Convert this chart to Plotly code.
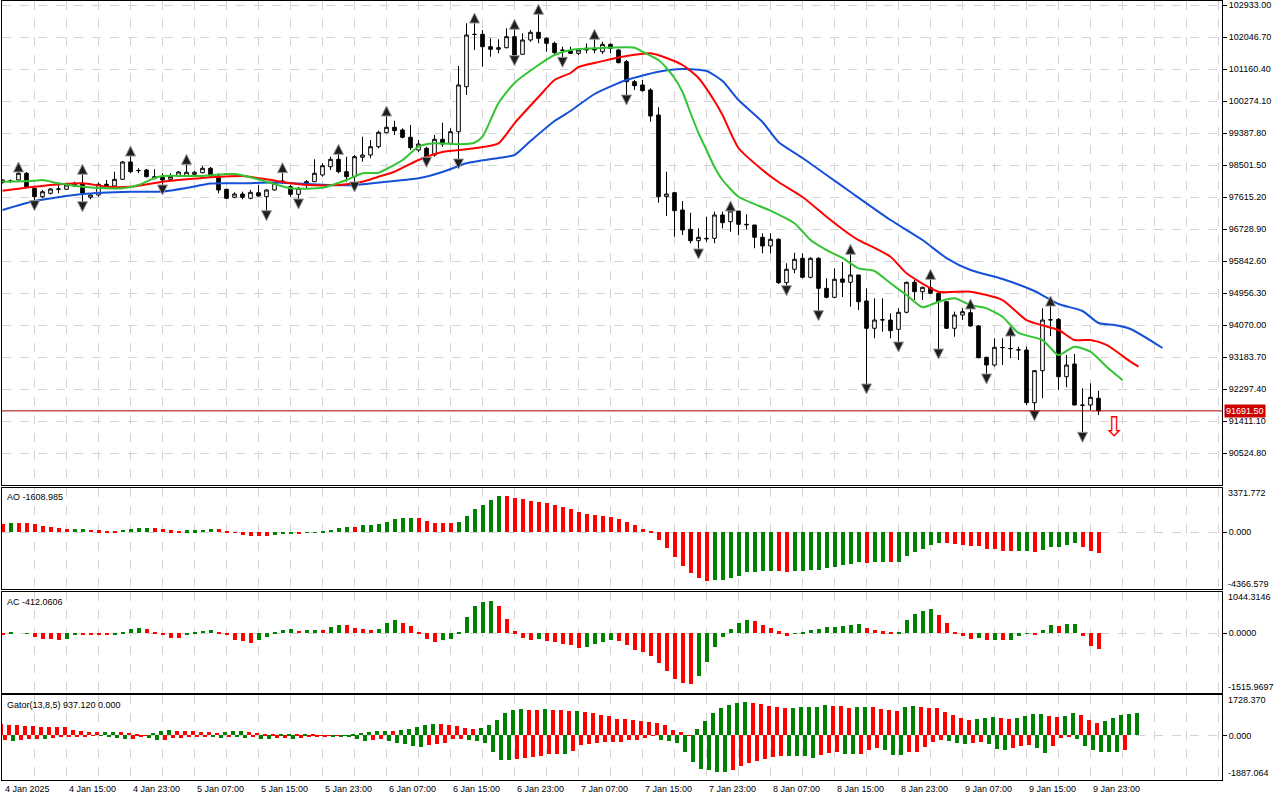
import plotly.graph_objects as go

# ---------------- DATA ----------------
opens = [98011, 98050, 98086, 98272, 97856, 97624, 97718, 97829, 97829, 97920,
         97995, 97607, 97671, 97967, 97920, 98105, 98585, 98344, 98363, 98178,
         98161, 98105, 98197, 98205, 98244, 98288, 98410, 98197, 97829, 97607,
         97698, 97579, 97734, 97624, 97809, 98058, 97901, 97690, 97995, 98039,
         98225, 98454, 98659, 98316, 98178, 98715, 98778, 99008, 99396, 99546,
         99471, 99269, 98917, 98964, 98778, 99213, 99102, 99424, 100670, 102121,
         102121, 101778, 101706, 101750, 102055, 101568, 101964, 102177, 102011, 101872,
         101687, 101659, 101595, 101734, 101734, 101640, 101844, 101687, 101363, 100809,
         100718, 100579, 99886, 97624, 97734, 97255, 96720, 96405, 96471, 96471,
         97117, 96931, 97227, 96859, 96840, 96499, 96258, 96444, 95242, 95613,
         95917, 95391, 95917, 95086, 94837, 95344, 95253, 95455, 94735, 93979,
         94208, 94208, 93951, 94422, 95253, 94993, 95103, 94948, 94715, 93979,
         94347, 94411, 94042, 93175, 92962, 93441, 93414, 93377, 93377, 91918,
         92805, 94208, 94228, 92638, 92990, 91854, 91854, 92040]
highs = [98105, 98100, 98335, 98308, 97865, 97809, 97865, 97948, 97995, 98039,
         98272, 97718, 98011, 98086, 98316, 98612, 98778, 98410, 98391, 98383,
         98272, 98272, 98335, 98548, 98335, 98474, 98446, 98272, 97837, 97745,
         97762, 97809, 97948, 97829, 98039, 98316, 97948, 97892, 98086, 98659,
         98548, 98732, 98825, 98732, 98778, 99285, 99194, 99452, 99886, 99728,
         99518, 99609, 99194, 99008, 99332, 99673, 99518, 101244, 102426, 102462,
         102241, 102011, 101983, 102288, 102288, 102149, 102241, 102703, 102038, 101916,
         101778, 101778, 101734, 101872, 102011, 101916, 101872, 101706, 101410, 100856,
         100856, 100626, 100100, 98316, 97762, 97504, 97180, 96748, 97070, 97208,
         97208, 97256, 97227, 97136, 96840, 96610, 96610, 96471, 95779, 96073,
         96056, 95945, 95945, 95363, 95640, 95815, 96056, 95455, 95086, 94809,
         94809, 94394, 94532, 95270, 95316, 95131, 95363, 94993, 94735, 94438,
         94532, 94541, 94070, 93192, 93702, 93702, 93793, 93469, 93469, 92824,
         94532, 94624, 94264, 93239, 93267, 92317, 92455, 92250]
lows = [97995, 98003, 98072, 97892, 97485, 97579, 97685, 97718, 97809, 97892,
        97457, 97552, 97624, 97856, 97901, 98086, 98272, 98272, 98155, 98105,
        97920, 98086, 98169, 98178, 98197, 98272, 98178, 97718, 97560, 97579,
        97552, 97552, 97624, 97208, 97790, 97975, 97624, 97532, 97865, 98031,
        98178, 98363, 98272, 98039, 98003, 98593, 98687, 98964, 99380, 99332,
        99241, 98917, 98862, 98687, 98732, 99008, 99055, 98640, 100440, 101687,
        101224, 101501, 101595, 101734, 101501, 101548, 101916, 101872, 101640, 101548,
        101457, 101576, 101548, 101595, 101595, 101576, 101595, 101318, 100412, 100579,
        100532, 99701, 97457, 97089, 96516, 96563, 96333, 96147, 96377, 96333,
        96748, 96654, 96563, 96720, 96195, 96056, 96056, 95205, 95131, 95502,
        95363, 95363, 94438, 94809, 94809, 94846, 94577, 94485, 92408, 93702,
        93884, 93702, 93571, 94394, 94762, 94762, 94929, 93377, 93959, 93746,
        94208, 94023, 93148, 92685, 92916, 92962, 93148, 93100, 91854, 91669,
        92040, 93765, 92270, 92344, 91846, 91070, 91716, 91577]
closes = [98086, 98058, 98272, 97901, 97624, 97762, 97837, 97837, 97948, 97995,
          97718, 97671, 97967, 97901, 98105, 98585, 98316, 98350, 98178, 98133,
          98086, 98178, 98308, 98300, 98300, 98410, 98197, 97809, 97579, 97698,
          97607, 97745, 97643, 97809, 97995, 98031, 97690, 97856, 98039, 98272,
          98482, 98659, 98316, 98178, 98732, 98778, 99008, 99407, 99546, 99452,
          99269, 98981, 99083, 98732, 99213, 99083, 99424, 100718, 102102, 102115,
          101778, 101706, 101750, 102055, 101548, 101964, 102177, 102011, 101872, 101612,
          101678, 101595, 101687, 101687, 101687, 101844, 101734, 101335, 100809, 100698,
          100560, 99859, 97624, 97698, 97236, 96701, 96405, 96499, 96460, 97117,
          96904, 97227, 96859, 96848, 96499, 96258, 96444, 95242, 95613, 95890,
          95391, 95917, 95086, 94837, 95336, 95253, 95455, 94715, 93979, 94208,
          94217, 93912, 94422, 95253, 94993, 95114, 94948, 94715, 93979, 94347,
          94438, 94042, 93164, 92962, 93452, 93447, 93419, 93383, 91918, 92805,
          94208, 94217, 92638, 92962, 91854, 91846, 92067, 91691.5]

fractal_up = [2, 10, 16, 23, 35, 42, 48, 59, 64, 67, 74, 91, 106, 116, 121, 126, 131]
fractal_down = [4, 10, 20, 33, 37, 44, 53, 57, 64, 70, 78, 87, 98, 102, 108, 112, 117, 123, 129, 135]

jaw_idx = [0, 4, 10, 16, 20, 23, 26, 30, 34, 37, 41, 44, 48, 52, 55, 58, 62, 64, 66, 69,
           71, 74, 78, 82, 85, 88, 90, 92, 95, 97, 100, 103, 106, 111, 115, 118, 121, 125,
           129, 132, 135, 137, 139, 141, 145]
jaw_val = [97255, 97504, 97698, 97762, 97768, 97865, 97989, 97995, 98017, 97989, 97948, 97948,
           98039, 98133, 98308, 98548, 98695, 98778, 99166, 99720, 99997, 100468, 100856, 101086,
           101160, 101105, 100828, 100302, 99692, 99138, 98695, 98225, 97754, 96978, 96424, 95925,
           95593, 95344, 95012, 94652, 94458, 94125, 94070, 93959, 93433]
teeth_idx = [0, 6, 10, 13, 16, 20, 23, 27, 30, 33, 36, 38, 42, 45, 47, 49, 52, 55, 59, 62,
             64, 67, 69, 71, 72, 74, 76, 78, 81, 83, 85, 87, 89, 90, 92, 95, 97, 100, 103, 106,
             107, 111, 113, 117, 121, 125, 128, 132, 134, 136, 138, 141, 142]
teeth_val = [97790, 97948, 97995, 97901, 97901, 98039, 98105, 98178, 98197, 98105, 97995, 97948,
             97948, 98039, 98178, 98316, 98640, 98862, 98964, 99102, 99657, 100385, 100856, 101050,
             101216, 101327, 101429, 101520, 101595, 101465, 101271, 100911, 100274, 99886, 98972,
             98363, 98031, 97616, 97070, 96563, 96424, 95962, 95502, 94993, 94993, 94762, 94208,
             93931, 93654, 93654, 93517, 93054, 92915]
lips_idx = [0, 4, 5, 7, 10, 13, 15, 17, 19, 20, 25, 28, 29, 31, 33, 36, 40, 43, 45, 47, 50,
            52, 54, 57, 59, 60, 62, 64, 67, 69, 71, 74, 79, 80, 82, 83, 84, 85, 86, 87, 88, 89,
            90, 92, 96, 99, 101, 103, 105, 107, 109, 111, 113, 115, 117, 119, 121, 123, 125,
            127, 130, 132, 134, 136, 138, 140]
lips_val = [98039, 98067, 98086, 97995, 97901, 97856, 97856, 97948, 98142, 98197, 98197, 98252,
            98252, 98161, 98039, 97856, 97873, 98086, 98272, 98288, 98640, 99008, 99102, 99075,
            99119, 99285, 100219, 100773, 101271, 101548, 101687, 101734, 101750, 101640, 101410,
            101188, 100911, 100523, 99942, 99388, 98917, 98446, 98086, 97623, 97236, 96887, 96424,
            96147, 95926, 95640, 95566, 95225, 94901, 94560, 94715, 94809, 94624, 94532, 94300,
            93849, 93654, 93239, 93469, 93330, 92916, 92547]

ao = [650, 680, 675, 665, 590, 460, 380, 305, 230, 235,
      240, 180, 150, 105, 100, 175, 230, 300, 305, 295,
      230, 150, 100, 120, 150, 175, 230, 225, 50, -25,
      -200, -300, -310, -320, -220, -120, -80, -100, -30, -20,
      10, 180, 300, 380, 370, 510, 533, 609, 761, 989,
      1066, 1070, 1065, 837, 685, 680, 675, 761, 1218, 1750,
      2055, 2486, 2745, 2740, 2588, 2512, 2410, 2334, 2207, 2055,
      1903, 1750, 1522, 1370, 1268, 1260, 1142, 989, 761, 533,
      254, 25, -609, -1192, -1877, -2588, -3171, -3552, -3729, -3704,
      -3653, -3552, -3349, -3095, -3044, -2968, -2960, -2975, -3044, -2994,
      -2968, -2892, -2885, -2740, -2664, -2537, -2461, -2283, -2359, -2283,
      -2280, -2290, -2283, -1827, -1522, -1268, -989, -812, -820, -888,
      -989, -1066, -1070, -1268, -1275, -1446, -1450, -1440, -1435, -1522,
      -1370, -1142, -1135, -989, -837, -1142, -1421, -1608.985]
ac = [-50, 10, 0, 5, -84, -150, -155, -160, -150, -30,
      -40, -45, -50, -55, -25, 15, 118, 120, 115, 35,
      -34, -110, -112, -50, 15, 67, 76, 42, -42, -168,
      -194, -236, -168, -84, 17, 84, 100, 59, 76, 78,
      72, 152, 202, 200, 126, 118, 93, 118, 253, 328,
      253, 177, 25, -143, -219, -168, -143, 34, 404, 682,
      783, 808, 682, 354, 50, -118, -168, -143, -202, -219,
      -269, -295, -370, -345, -269, -219, -168, -194, -295, -421,
      -471, -581, -749, -960, -1154, -1255, -1288, -1086, -724, -345,
      -93, 101, 253, 328, 303, 202, 126, 50, -67, -17,
      25, 76, 101, 152, 155, 185, 202, 236, 126, 76,
      50, 8, 10, 328, 480, 556, 606, 455, 253, 25,
      -67, -143, -118, -168, -160, -170, -160, -67, 5, -40,
      76, 202, 177, 236, 240, -67, -320, -412.0606]
gator_up = [488, 445, 430, 416, 390, 375, 360, 352, 345, 230,
            172, 135, 125, 128, 131, 125, 86, 45, 15, 100,
            172, 245, 200, 185, 172, 145, 130, 115, 160, 172,
            175, 130, 86, 43, 30, 72, 75, 43, 58, 30,
            15, 10, 5, 10, 40, 86, 129, 172, 175, 170,
            215, 258, 344, 430, 474, 470, 430, 387, 301, 258,
            301, 430, 646, 947, 1076, 1119, 1076, 1070, 1119, 1105,
            1076, 1033, 1040, 990, 947, 861, 818, 689, 685, 646,
            603, 560, 517, 430, 230, 129, 14, 258, 603, 947,
            1162, 1292, 1378, 1421, 1378, 1335, 1263, 1220, 1162, 1177,
            1220, 1225, 1228, 1292, 1249, 1245, 1177, 1220, 1225, 1220,
            1134, 1091, 1033, 1205, 1249, 1205, 1162, 1155, 1019, 861,
            746, 646, 689, 732, 789, 732, 689, 732, 818, 904,
            906, 818, 789, 818, 947, 861, 646, 517, 603, 732,
            861, 904, 937.12]
gator_down = [180, 250, 180, 175, 170, 175, 120, 80, 60, 40,
              30, 20, 25, 70, 115, 170, 140, 70, 110, 190,
              185, 120, 100, 85, 70, 60, 80, 100, 75, 85,
              95, 60, 150, 160, 130, 90, 150, 130, 50, 40,
              30, 60, 70, 80, 150, 230, 200, 143, 244, 330,
              373, 459, 502, 416, 373, 330, 158, 150, 200, 244,
              330, 717, 1062, 1070, 1019, 976, 933, 875, 804, 775,
              780, 674, 416, 373, 330, 301, 290, 285, 215, 187,
              115, 14, 215, 244, 330, 717, 1148, 1421, 1492, 1550,
              1578, 1492, 1320, 1191, 1076, 990, 904, 861, 875, 890,
              900, 947, 818, 761, 717, 803, 810, 775, 646, 545,
              646, 847, 850, 718, 715, 502, 301, 201, 260, 330,
              387, 344, 301, 387, 603, 646, 560, 474, 430, 560,
              732, 474, 129, 86, 172, 474, 646, 690, 700, 710,
              620]

price_ticks = [102933.00, 102046.70, 101160.40, 100274.10, 99387.80, 98501.50, 97615.20,
               96728.90, 95842.60, 94956.30, 94070.00, 93183.70, 92297.40, 91411.10, 90524.80]
time_label_idx = [0, 8, 16, 24, 32, 40, 48, 56, 64, 72, 80, 88, 96, 104, 112, 120, 128, 136]
time_labels = ["4 Jan 2025", "4 Jan 15:00", "4 Jan 23:00", "5 Jan 07:00", "5 Jan 15:00",
               "5 Jan 23:00", "6 Jan 07:00", "6 Jan 15:00", "6 Jan 23:00", "7 Jan 07:00",
               "7 Jan 15:00", "7 Jan 23:00", "8 Jan 07:00", "8 Jan 15:00", "8 Jan 23:00",
               "9 Jan 07:00", "9 Jan 15:00", "9 Jan 23:00"]
ao_range = [-4366.579, 3371.772]
ac_range = [-1515.9697, 1044.3146]
gator_range = [-1887.064, 1728.370]
main_range = [89638.5, 103043.8]

# ---------------- STYLE ----------------
W, H = 1280, 800
GREEN = "#008000"
RED = "#ff0000"
GRID = "#d4d4d4"
FONT = "Liberation Sans"
BAR_PX = 8.0
X0_PX = 2.5
left_px, right_px = 2, 1222
xr = [(left_px - X0_PX) / BAR_PX, (right_px - X0_PX) / BAR_PX]
xd = [left_px / W, right_px / W]

def pdom(top_px, bot_px):
    return [1 - bot_px / H, 1 - top_px / H]

dom_main = pdom(1, 485)
dom_ao = pdom(488, 589)
dom_ac = pdom(592, 693)
dom_gt = pdom(695, 779.5)

def up_colors(vals):
    out = []
    for k, v in enumerate(vals):
        prev = vals[k - 1] if k > 0 else v
        out.append(GREEN if v > prev else RED)
    return out

n = len(closes)
idx = list(range(n))

fig = go.Figure()
fig.add_trace(go.Candlestick(
    x=idx, open=opens, high=highs, low=lows, close=closes,
    increasing=dict(line=dict(color="black", width=1), fillcolor="white"),
    decreasing=dict(line=dict(color="black", width=1), fillcolor="black"),
    whiskerwidth=0, hoverinfo="skip", xaxis="x", yaxis="y"))

for ix, vals, col in [(jaw_idx, jaw_val, "#1450d8"), (teeth_idx, teeth_val, "#ff0000"),
                      (lips_idx, lips_val, "#33c433")]:
    fig.add_trace(go.Scatter(x=ix, y=vals, mode="lines",
                             line=dict(color=col, width=2, shape="spline", smoothing=0.6),
                             hoverinfo="skip", xaxis="x", yaxis="y"))

px_price = (main_range[1] - main_range[0]) / 484.0
fig.add_trace(go.Scatter(
    x=fractal_up, y=[highs[i] + 9 * px_price for i in fractal_up], mode="markers",
    marker=dict(symbol="arrow-up", size=10, color="#1e1e1e", line=dict(color="#9a9a9a", width=1)),
    hoverinfo="skip", xaxis="x", yaxis="y"))
fig.add_trace(go.Scatter(
    x=fractal_down, y=[lows[i] - 9 * px_price for i in fractal_down], mode="markers",
    marker=dict(symbol="arrow-down", size=10, color="#1e1e1e", line=dict(color="#9a9a9a", width=1)),
    hoverinfo="skip", xaxis="x", yaxis="y"))

fig.add_trace(go.Bar(x=idx, y=ao, marker=dict(color=up_colors(ao), line=dict(width=0)),
                     width=0.5, hoverinfo="skip", xaxis="x2", yaxis="y2"))
fig.add_trace(go.Bar(x=idx, y=ac, marker=dict(color=up_colors(ac), line=dict(width=0)),
                     width=0.5, hoverinfo="skip", xaxis="x3", yaxis="y3"))
fig.add_trace(go.Bar(x=list(range(len(gator_up))), y=gator_up,
                     marker=dict(color=up_colors(gator_up), line=dict(width=0)),
                     width=0.5, hoverinfo="skip", xaxis="x4", yaxis="y4"))
fig.add_trace(go.Bar(x=list(range(len(gator_down))), y=[-v for v in gator_down],
                     marker=dict(color=up_colors(gator_down), line=dict(width=0)),
                     width=0.5, hoverinfo="skip", xaxis="x4", yaxis="y4"))

xcommon = dict(domain=xd, range=xr, showticklabels=False, tick0=0, dtick=4,
               showgrid=True, gridcolor=GRID, griddash="dash", gridwidth=1, zeroline=False,
               showline=True, mirror=True, linecolor="black", linewidth=1, ticks="",
               fixedrange=True)
ycommon = dict(side="right", showline=True, mirror=True, linecolor="black", linewidth=1,
               zeroline=False, showgrid=True, gridcolor=GRID, griddash="dash", gridwidth=1,
               ticks="outside", ticklen=4, tickcolor="black",
               tickfont=dict(family=FONT, size=9, color="black"), fixedrange=True,
               automargin=False)

layout = dict(
    width=W, height=H, margin=dict(l=0, r=0, t=0, b=0, autoexpand=False),
    paper_bgcolor="white", plot_bgcolor="white", showlegend=False, bargap=0,
    boxgap=0.35,
    font=dict(family=FONT, size=9, color="black"),
    xaxis=dict(**xcommon, anchor="y", rangeslider=dict(visible=False)),
    xaxis2=dict(**xcommon, anchor="y2", matches="x"),
    xaxis3=dict(**xcommon, anchor="y3", matches="x"),
    xaxis4=dict(**xcommon, anchor="y4", matches="x"),
    yaxis=dict(**ycommon, domain=dom_main, range=main_range, anchor="x",
               tickvals=price_ticks, ticktext=[f"{v:.2f}" for v in price_ticks]),
    yaxis2=dict(**ycommon, domain=dom_ao, range=ao_range, anchor="x2",
                tickvals=[0], ticktext=["0.000"]),
    yaxis3=dict(**ycommon, domain=dom_ac, range=ac_range, anchor="x3",
                tickvals=[0], ticktext=["0.0000"]),
    yaxis4=dict(**ycommon, domain=dom_gt, range=gator_range, anchor="x4",
                tickvals=[0], ticktext=["0.000"]),
)
fig.update_layout(**layout)

last = closes[-1]
fig.add_shape(type="line", xref="paper", yref="y", x0=xd[0], x1=xd[1], y0=last, y1=last,
              line=dict(color="#a00000", width=1))

ann = []
ann.append(dict(x=1224 / W, xref="paper", y=last, yref="y", text=f"{last:.2f}",
                showarrow=False, xanchor="left", yanchor="middle", bgcolor="#cc0000",
                font=dict(color="white", size=9, family=FONT), borderpad=1))
# sell signal arrow next to last bar
ann.append(dict(x=n + 1, xref="x", y=lows[-1] - 11 * px_price, yref="y", text="\u21e9",
                showarrow=False, font=dict(color="#ff0000", size=27, family="DejaVu Sans"),
                xanchor="center", yanchor="middle"))
# indicator names
for txt, ypx in [(f"AO {ao[-1]:.3f}", 497), (f"AC {ac[-1]:.4f}", 602),
                 (f"Gator(13,8,5) {gator_up[-1]:.3f} 0.000", 705)]:
    ann.append(dict(x=5 / W, xref="paper", y=1 - ypx / H, yref="paper", text=txt,
                    showarrow=False, xanchor="left", yanchor="middle",
                    font=dict(size=9, family=FONT, color="black")))
# top/bottom scale labels of sub windows
for val, fmt, ypx in [(ao_range[1], "{:.3f}", 493), (ao_range[0], "{:.3f}", 584),
                      (ac_range[1], "{:.4f}", 597), (ac_range[0], "{:.4f}", 687),
                      (gator_range[1], "{:.3f}", 700), (gator_range[0], "{:.3f}", 773)]:
    ann.append(dict(x=1226 / W, xref="paper", y=1 - ypx / H, yref="paper", text=fmt.format(val),
                    showarrow=False, xanchor="left", yanchor="middle",
                    font=dict(size=9, family=FONT, color="black")))
# time labels
for i, t in zip(time_label_idx, time_labels):
    ann.append(dict(x=i, xref="x4", y=1 - 789 / H, yref="paper", text=t, showarrow=False,
                    xanchor="left", yanchor="middle", font=dict(size=9, family=FONT, color="black")))
fig.update_layout(annotations=ann)

fig.write_html("out.html", config={"displayModeBar": False},
               post_script="document.body.style.margin='0px';document.body.style.overflow='hidden';")
